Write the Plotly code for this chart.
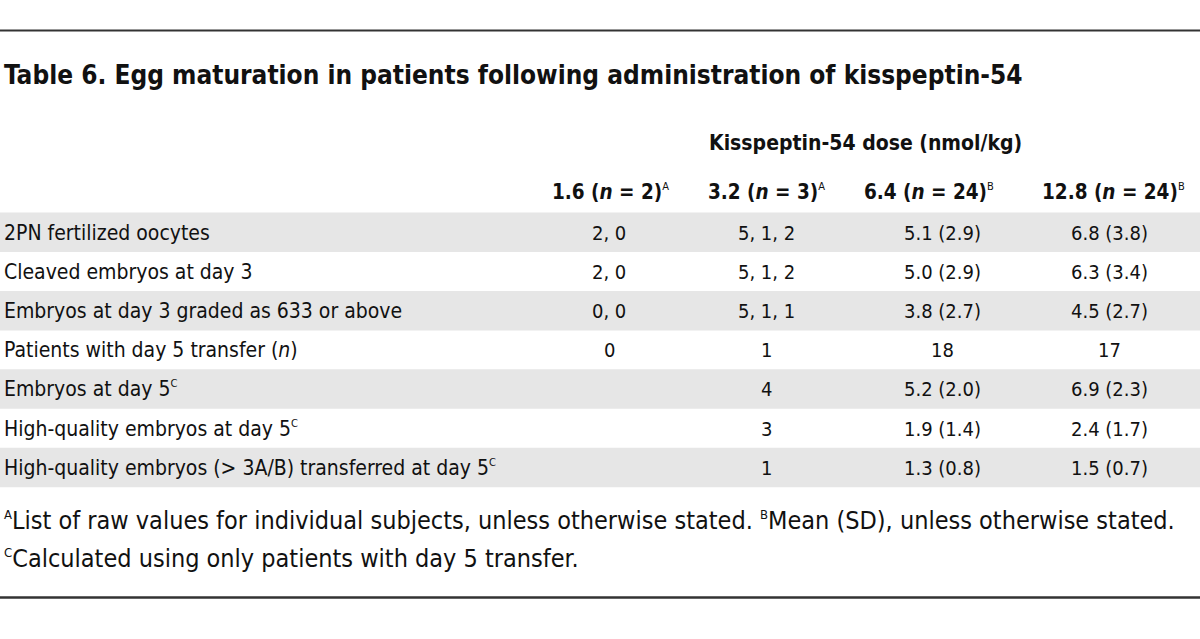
import plotly.graph_objects as go

title = "Table 6. Egg maturation in patients following administration of kisspeptin-54"
group_header = "Kisspeptin-54 dose (nmol/kg)"
col_headers = ["1.6 (<i>n</i> = 2)", "3.2 (<i>n</i> = 3)", "6.4 (<i>n</i> = 24)", "12.8 (<i>n</i> = 24)"]
col_header_notes = ["A", "A", "B", "B"]
row_labels = [
    "2PN fertilized oocytes",
    "Cleaved embryos at day 3",
    "Embryos at day 3 graded as 633 or above",
    "Patients with day 5 transfer (<i>n</i>)",
    "Embryos at day 5",
    "High-quality embryos at day 5",
    "High-quality embryos (> 3A/B) transferred at day 5",
]
row_notes = ["", "", "", "", "C", "C", "C"]
dose_1_6 = ["2, 0", "2, 0", "0, 0", "0", "", "", ""]
dose_3_2 = ["5, 1, 2", "5, 1, 2", "5, 1, 1", "1", "4", "3", "1"]
dose_6_4 = ["5.1 (2.9)", "5.0 (2.9)", "3.8 (2.7)", "18", "5.2 (2.0)", "1.9 (1.4)", "1.3 (0.8)"]
dose_12_8 = ["6.8 (3.8)", "6.3 (3.4)", "4.5 (2.7)", "17", "6.9 (2.3)", "2.4 (1.7)", "1.5 (0.7)"]
footnote_marks = ["A", "B", "C"]
footnote_texts = [
    "List of raw values for individual subjects, unless otherwise stated. ",
    "Mean (SD), unless otherwise stated.",
    "Calculated using only patients with day 5 transfer.",
]

FONT = "DejaVu Sans Condensed, DejaVu Sans, sans-serif"
TXT = "#111111"
col_x = [609, 766, 942, 1109]
head_x = [610, 766, 929, 1113]
row_y0 = 232.5
row_h = 39.2
label_x = 2
BODY = 21


def sup(s, size=11):
    return "<sup><span style='font-size:%dpx'>%s</span></sup>" % (size, s) if s else ""


fig = go.Figure()
fig.add_trace(go.Scatter(x=[0, 1200], y=[0, 639], mode="markers",
                         marker=dict(opacity=0), hoverinfo="skip", showlegend=False))

shapes = []
shapes.append(dict(type="line", x0=0, x1=1200, y0=30.5, y1=30.5, line=dict(color="#333333", width=2)))
shapes.append(dict(type="line", x0=0, x1=1200, y0=597.5, y1=597.5, line=dict(color="#333333", width=2.5)))
for i in range(len(row_labels)):
    if i % 2 == 0:
        yc = row_y0 + i * row_h
        shapes.append(dict(type="rect", x0=0, x1=1200, y0=yc - 20, y1=yc + 19.5,
                           fillcolor="#e6e6e6", line=dict(width=0), layer="below"))

ann = []
ann.append(dict(x=label_x, y=75, text="<b>" + title + "</b>", xanchor="left", yanchor="middle",
                showarrow=False, font=dict(family=FONT, size=26, color=TXT)))
ann.append(dict(x=865, y=143, text="<b>" + group_header + "</b>", xanchor="center", yanchor="middle",
                showarrow=False, font=dict(family=FONT, size=21, color=TXT)))
for hx, h, n in zip(head_x, col_headers, col_header_notes):
    ann.append(dict(x=hx, y=192, text="<b>" + h + "</b>" + sup(n), xanchor="center", yanchor="middle",
                    showarrow=False, font=dict(family=FONT, size=20.5, color=TXT)))

columns = [dose_1_6, dose_3_2, dose_6_4, dose_12_8]
for i, lab in enumerate(row_labels):
    yc = row_y0 + i * row_h
    ann.append(dict(x=label_x, y=yc, text=lab + sup(row_notes[i]), xanchor="left", yanchor="middle",
                    showarrow=False, font=dict(family=FONT, size=BODY, color=TXT)))
    for cx, col in zip(col_x, columns):
        if col[i]:
            ann.append(dict(x=cx, y=yc, text=col[i], xanchor="center", yanchor="middle",
                            showarrow=False, font=dict(family=FONT, size=BODY - 1, color=TXT)))

fn1 = sup(footnote_marks[0], 13) + footnote_texts[0] + sup(footnote_marks[1], 13) + footnote_texts[1]
fn2 = sup(footnote_marks[2], 13) + footnote_texts[2]
for k, fn in enumerate([fn1, fn2]):
    ann.append(dict(x=label_x, y=520 + k * 38, text=fn, xanchor="left", yanchor="middle",
                    showarrow=False, font=dict(family=FONT, size=25, color=TXT)))

fig.update_layout(
    width=1200, height=639,
    margin=dict(l=0, r=0, t=0, b=0),
    paper_bgcolor="white", plot_bgcolor="white",
    xaxis=dict(range=[0, 1200], visible=False, fixedrange=True),
    yaxis=dict(range=[639, 0], visible=False, fixedrange=True),
    shapes=shapes, annotations=ann, showlegend=False,
)
fig.write_html("out.html", config={"responsive": False, "displayModeBar": False},
               post_script="document.body.style.margin='0';document.body.style.overflow='hidden';")
